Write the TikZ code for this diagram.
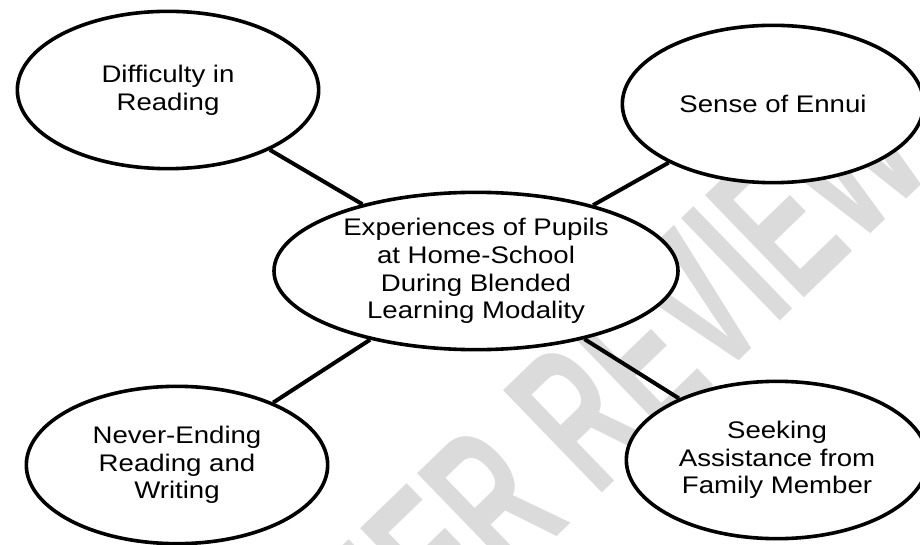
\documentclass[tikz,border=0pt]{standalone}
\usepackage{fontspec}
\setmainfont{Liberation Sans}[FakeStretch=1.15]
\newfontfamily\markfont{Liberation Sans Bold}[FakeStretch=0.58]
\usetikzlibrary{shapes.geometric}

\begin{document}
\begin{tikzpicture}[x=0.75pt,y=-0.75pt,
		theme/.style={draw,fill=white,ellipse,line width=2.7pt,inner sep=0pt,minimum width=226pt,minimum height=118pt,align=center,font=\fontsize{18}{20.8}\selectfont},
		core/.style={theme,minimum width=303pt},
		link/.style={line width=3pt}]
				\useasboundingbox (0,0) rectangle (920,545);
				\clip (0,0) rectangle (920,545);
				
				\node[black!14,rotate=44,anchor=base west,inner sep=0pt,font=\markfont\fontsize{155}{155}\selectfont] (mark) at (338,748) {PEER REVIEW};
				
				\node[core] (hub) at (476,271) {Experiences of Pupils\\at Home-School\\During Blended\\Learning Modality};
				
				\node[theme] (reading) at (168,90) {Difficulty in\\Reading};
				\node[theme] (ennui) at (773,104) {Sense of Ennui};
				\node[theme] (writing) at (177,465) {Never-Ending\\Reading and\\Writing};
				\node[theme] (family) at (777,460) {Seeking\\Assistance from\\Family Member};
				
				\draw[link] (hub) -- (reading);
				\draw[link] (hub) -- (ennui);
				\draw[link] (hub) -- (writing);
				\draw[link] (hub) -- (family);
			\end{tikzpicture}
\end{document}
